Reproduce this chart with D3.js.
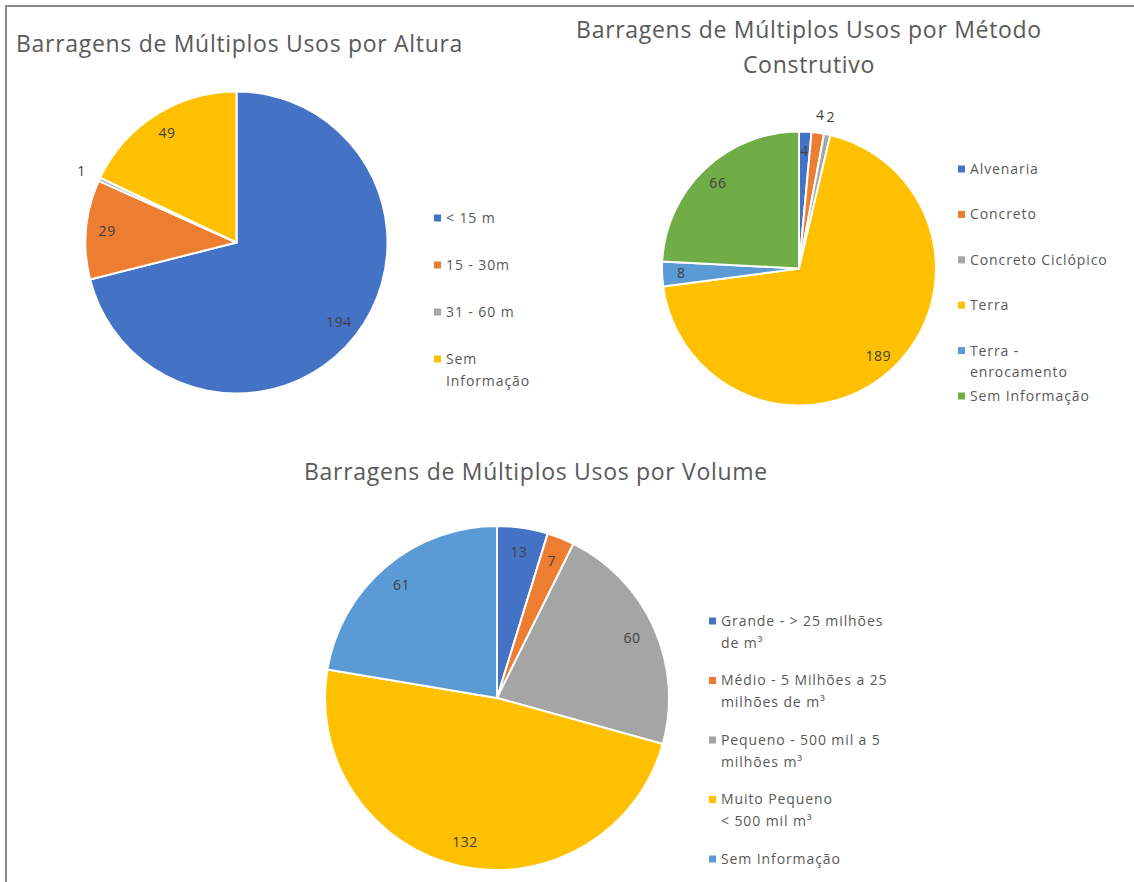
<!DOCTYPE html>
<html>
<head>
<meta charset="utf-8">
<script src="https://cdn.jsdelivr.net/npm/d3@7"></script>
<style>
  html, body { margin: 0; padding: 0; background: #fff; }
  svg { display: block; font-family: "Open Sans", Lato, sans-serif; }
</style>
</head>
<body>
<svg id="chart" width="1134" height="882"></svg>
<script>
// Données

// Barragens por altura
const alturaCats = ["< 15 m", "15 - 30m", "31 - 60 m", "Sem Informação"];
const alturaVals = [194, 29, 1, 49];

// Barragens por método construtivo
const metodoCats = ["Alvenaria", "Concreto", "Concreto Ciclópico", "Terra", "Terra  - enrocamento", "Sem Informação"];
const metodoVals = [4, 4, 2, 189, 8, 66];

// Barragens por volume
const volumeCats = ["Grande - > 25 milhões de m³", "Médio - 5 Milhões a 25 milhões de m³", "Pequeno - 500 mil a 5 milhões m³", "Muito Pequeno\n< 500 mil m³", "Sem Informação"];
const volumeVals = [13, 7, 60, 132, 61];

// couleurs Office
const alturaColors = ["#4472C4", "#ED7D31", "#A5A5A5", "#FFC000"];
const metodoColors = ["#4472C4", "#ED7D31", "#A5A5A5", "#FFC000", "#5B9BD5", "#70AD47"];
const volumeColors = ["#4472C4", "#ED7D31", "#A5A5A5", "#FFC000", "#5B9BD5"];

//---------------------------------------------------------------------------------------

const svg = d3.select("#chart");

// cadre gris (bords haut et gauche seulement)
svg.append("line").attr("x1", 6).attr("x2", 6).attr("y1", 5).attr("y2", 882)
  .attr("stroke", "#8a8a8a").attr("stroke-width", 2);
svg.append("line").attr("x1", 5).attr("x2", 1134).attr("y1", 6).attr("y2", 6)
  .attr("stroke", "#8a8a8a").attr("stroke-width", 2);

const charts = [
  {
    cats: alturaCats, vals: alturaVals, colors: alturaColors,
    title: ["Barragens de Múltiplos Usos por Altura"], titleX: 16, titleY: 52, titleAnchor: "start",
    cx: 236.5, cy: 242.5, r: 151,
    outside: ["31 - 60 m"],
    legend: { x: 434, y: 218, pitch: 47, wrap: 82 }
  },
  {
    cats: metodoCats, vals: metodoVals, colors: metodoColors,
    title: ["Barragens de Múltiplos Usos por Método", "Construtivo"], titleX: 809, titleY: 38, titleAnchor: "middle",
    cx: 799, cy: 268.5, r: 137,
    outside: ["Concreto", "Concreto Ciclópico"],
    legend: { x: 958, y: 169, pitch: 45.4, wrap: 143 }
  },
  {
    cats: volumeCats, vals: volumeVals, colors: volumeColors,
    title: ["Barragens de Múltiplos Usos por Volume"], titleX: 536, titleY: 480, titleAnchor: "middle",
    cx: 497, cy: 698, r: 172,
    outside: [],
    legend: { x: 709, y: 621, pitch: 59.5, wrap: 178 }
  }
];

// découpe d'un libellé en lignes selon la largeur disponible
function wrapLines(textSel, label, maxW) {
  const lines = [];
  label.split("\n").forEach(part => {
    const words = part.split(" ");
    let line = "";
    words.forEach(w => {
      const test = line === "" ? w : line + " " + w;
      textSel.text(test);
      if (line !== "" && textSel.node().getComputedTextLength() > maxW) {
        lines.push(line);
        line = w;
      } else {
        line = test;
      }
    });
    lines.push(line);
  });
  textSel.text(null);
  return lines;
}

charts.forEach(cfg => {
  const g = svg.append("g");

  // titre
  cfg.title.forEach((t, i) => {
    g.append("text")
      .attr("x", cfg.titleX)
      .attr("y", cfg.titleY + i * 35)
      .attr("text-anchor", cfg.titleAnchor)
      .attr("font-size", 23)
      .attr("letter-spacing", 0.7)
      .attr("fill", "#595959")
      .text(t);
  });

  const scaleC = d3.scaleOrdinal().domain(cfg.cats).range(cfg.colors);

  const pie = d3.pie().sort(null).value(d => d.v);
  const data = cfg.cats.map((c, i) => ({ cat: c, v: cfg.vals[i] }));
  const arcs = pie(data);

  const arc = d3.arc().innerRadius(0).outerRadius(cfg.r);
  const arcIn = d3.arc().innerRadius(cfg.r * 0.86).outerRadius(cfg.r * 0.86);
  const arcOut = d3.arc().innerRadius(cfg.r * 1.13).outerRadius(cfg.r * 1.13);

  const plot = g.append("g").attr("transform", `translate(${cfg.cx}, ${cfg.cy})`);

  plot.selectAll("path")
    .data(arcs)
    .join("path")
    .attr("d", arc)
    .attr("fill", d => scaleC(d.data.cat))
    .attr("stroke", "#fff")
    .attr("stroke-width", 2)
    .attr("stroke-linejoin", "round");

  // étiquettes de valeurs
  plot.selectAll("text.val")
    .data(arcs)
    .join("text")
    .attr("class", "val")
    .attr("transform", d => {
      const p = cfg.outside.includes(d.data.cat) ? arcOut.centroid(d) : arcIn.centroid(d);
      return `translate(${p[0]}, ${p[1]})`;
    })
    .attr("text-anchor", "middle")
    .attr("dy", "0.35em")
    .attr("font-size", 14)
    .attr("letter-spacing", 0.5)
    .attr("fill", "#404040")
    .text(d => d.data.v);

  // légende
  const legend = g.selectAll(".legend")
    .data(cfg.cats)
    .join("g")
    .attr("class", "legend")
    .attr("transform", (d, i) => `translate(${cfg.legend.x}, ${cfg.legend.y + i * cfg.legend.pitch})`);

  legend.append("rect")
    .attr("x", 0)
    .attr("y", -3.5)
    .attr("width", 7)
    .attr("height", 7)
    .attr("fill", d => scaleC(d));

  legend.each(function(d) {
    const t = d3.select(this).append("text")
      .attr("x", 12)
      .attr("font-size", 14)
      .attr("letter-spacing", 0.9)
      .attr("fill", "#595959");
    const lines = wrapLines(t, d, cfg.legend.wrap);
    lines.forEach((l, k) => {
      t.append("tspan")
        .attr("x", 12)
        .attr("y", k * 22)
        .attr("dy", "0.35em")
        .text(l);
    });
  });
});
</script>
</body>
</html>
